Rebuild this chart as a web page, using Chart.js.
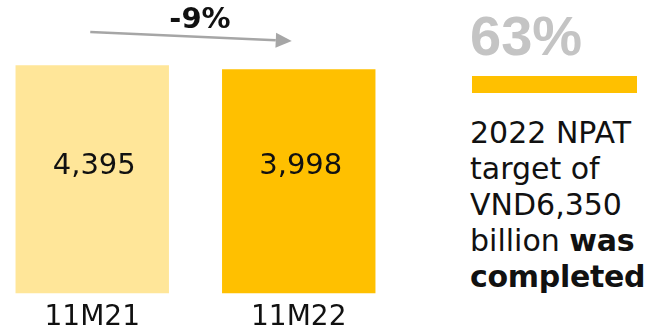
<!DOCTYPE html>
<html lang="en">
<head>
    <meta charset="UTF-8">
    <title>NPAT 11M21 vs 11M22</title>
    <script src="https://cdn.jsdelivr.net/npm/chart.js"></script>
    <style>
        html, body { margin: 0; padding: 0; background: #fff; overflow: hidden; }
        body { width: 656px; height: 332px; position: relative; font-family: "DejaVu Sans", sans-serif; color: #111; }
        #wrap { position: absolute; left: -11px; top: 0; width: 413px; height: 343px; }
        #change { position: absolute; left: 150px; top: 4px; width: 100px; text-align: center;
                  font-weight: bold; font-size: 29px; line-height: 29px; }
        #pct { position: absolute; left: 470px; top: 8px; font-family: "Liberation Sans", Arial, sans-serif;
               font-weight: bold; font-size: 56px; line-height: 56px; color: #c4c4c4; }
        #rule { position: absolute; left: 472px; top: 76px; width: 165px; height: 17px; background: #FFC000; }
        #note { position: absolute; left: 470px; top: 115px; font-size: 30px; line-height: 36px; white-space: nowrap; }
        #note b { letter-spacing: -0.3px; }
    </style>
</head>
<body>
    <div id="wrap"><canvas id="npatChart"></canvas></div>
    <div id="change"></div>
    <div id="pct">63%</div>
    <div id="rule"></div>
    <div id="note">2022 NPAT<br>target of<br>VND6,350<br>billion <b>was</b><br><b>completed</b></div>

    <script>
        // NPAT, VND billion
        const periods = ['11M21', '11M22'];
        const npat = [4395, 3998];
        const barColors = ['#FFE699', '#FFC000'];
        // the original axis is truncated, bars look almost equal
        const AXIS_MIN = -18200;
        const AXIS_MAX = 10850;

        const change = Math.round((npat[1] / npat[0] - 1) * 100);
        document.getElementById('change').innerText = (change > 0 ? '+' : '') + change + '%';

        // value labels inside the bars + the grey trend arrow
        const extras = {
            id: 'extras',
            afterDatasetsDraw(chart) {
                const ctx = chart.ctx;
                const bars = chart.getDatasetMeta(0).data;
                const area = chart.chartArea;
                ctx.save();
                ctx.font = '29px "DejaVu Sans"';
                ctx.fillStyle = '#111';
                ctx.textAlign = 'center';
                ctx.textBaseline = 'middle';
                bars.forEach((bar, i) => {
                    ctx.fillText(npat[i].toLocaleString('en-US'), bar.x + 2, (area.top + area.bottom) / 2 + 20);
                });

                const x1 = bars[0].x - 2, y1 = 32;
                const x2 = bars[1].x - 7, y2 = 41;
                const ang = Math.atan2(y2 - y1, x2 - x1);
                const head = 16, half = 7.5;
                const bx = x2 - head * Math.cos(ang), by = y2 - head * Math.sin(ang);
                ctx.strokeStyle = '#a6a6a6';
                ctx.fillStyle = '#a6a6a6';
                ctx.lineWidth = 2.5;
                ctx.beginPath();
                ctx.moveTo(x1, y1);
                ctx.lineTo(bx, by);
                ctx.stroke();
                ctx.beginPath();
                ctx.moveTo(x2, y2);
                ctx.lineTo(bx + half * Math.sin(ang), by - half * Math.cos(ang));
                ctx.lineTo(bx - half * Math.sin(ang), by + half * Math.cos(ang));
                ctx.closePath();
                ctx.fill();
                ctx.restore();
            }
        };

        new Chart(document.getElementById('npatChart'), {
            type: 'bar',
            data: {
                labels: periods,
                datasets: [{
                    data: npat,
                    base: AXIS_MIN,
                    backgroundColor: barColors,
                    borderWidth: 0,
                    categoryPercentage: 1,
                    barPercentage: 0.743
                }]
            },
            options: {
                responsive: true,
                maintainAspectRatio: false,
                animation: false,
                layout: { padding: 0 },
                plugins: { legend: { display: false }, tooltip: { enabled: false } },
                scales: {
                    x: {
                        grid: { display: false, drawTicks: false },
                        border: { display: false },
                        ticks: { color: '#111', padding: 8, font: { family: 'DejaVu Sans', size: 28 } }
                    },
                    y: { display: false, min: AXIS_MIN, max: AXIS_MAX }
                }
            },
            plugins: [extras]
        });
    </script>
</body>
</html>
